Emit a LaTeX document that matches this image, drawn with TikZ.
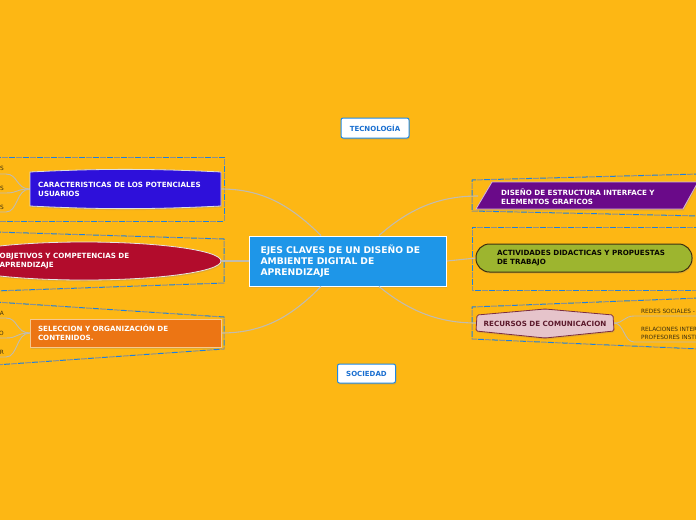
\documentclass[tikz,border=0pt]{standalone}
\usepackage{fontspec}
\setmainfont{DejaVu Sans}
\usetikzlibrary{shadows}
\definecolor{bgc}{HTML}{FDB714}
\definecolor{cblue}{HTML}{1E96E8}
\definecolor{vblue}{HTML}{2E10DA}
\definecolor{cred}{HTML}{B20C2C}
\definecolor{corange}{HTML}{EC7514}
\definecolor{corborder}{HTML}{F7C98E}
\definecolor{cpurple}{HTML}{6A0A89}
\definecolor{cgreen}{HTML}{9DB52F}
\definecolor{cgreenbd}{HTML}{3D3010}
\definecolor{cpink}{HTML}{E6C4CB}
\definecolor{cpinkbd}{HTML}{7B2D40}
\definecolor{cpinktx}{HTML}{5C1A2C}
\definecolor{tagbd}{HTML}{1E88E5}
\definecolor{tagtx}{HTML}{1A6FD0}
\definecolor{dblue}{HTML}{1E7FE0}
\definecolor{dgray}{HTML}{8A9090}
\definecolor{conn}{HTML}{C2BCAE}
\definecolor{subtx}{HTML}{3A2E10}
\newcommand{\twodash}[1]{%
  \draw[dblue,line width=1pt,dash pattern=on 6pt off 8pt] #1;
  \draw[dgray,line width=1pt,dash pattern=on 6pt off 8pt,dash phase=7pt] #1;}
\begin{document}
\begin{tikzpicture}[x=1pt,y=-1pt,
  conn/.style={draw=conn,line width=1.1pt},
  sub/.style={draw=conn,line width=0.9pt},
  lbl/.style={font=\bfseries\fontsize{7.15}{9}\selectfont,align=left,inner sep=0pt},
  subl/.style={font=\fontsize{5.8}{8}\selectfont,text=subtx,align=left,inner sep=0pt},
  shad/.style={drop shadow={opacity=0.22,shadow xshift=0.8pt,shadow yshift=-1.5pt}},
  tag/.style={draw=tagbd,line width=1pt,fill=white,rounded corners=2pt,text=tagtx,
    font=\bfseries\fontsize{7}{8}\selectfont,inner sep=0pt,shad}]
\useasboundingbox (0,0) rectangle (696,520);
\clip (0,0) rectangle (696,520);
\fill[bgc] (0,0) rectangle (696,520);

% dashed boundaries
\twodash{(-5,157) -- (224,157) -- (224,221) -- (-5,221)}
\twodash{(-5,232) -- (224,239) -- (224,283) -- (-5,291)}
\twodash{(-5,302) -- (224,317) -- (224,349) -- (-5,365)}
\twodash{(700,174) -- (472,180) -- (472,211) -- (700,216)}
\twodash{(700,227) -- (472,227) -- (472,290) -- (700,290)}
\twodash{(700,298) -- (472,307) -- (472,339) -- (700,349)}

% central node
\node[fill=cblue,draw=white,line width=1pt,minimum width=197pt,minimum height=50pt,
  text width=175pt,inner xsep=11pt,align=left,text=white,
  font=\bfseries\fontsize{9.2}{10.8}\selectfont,shad] (c) at (348,261)
  {EJES CLAVES DE UN DISEÑO DE\\AMBIENTE DIGITAL DE\\APRENDIZAJE};

% attach coordinates
\coordinate (cuR) at (221,189);
\coordinate (obR) at (221,261);
\coordinate (soR) at (221,333);
\coordinate (diL) at (478,196);
\coordinate (acL) at (476,258);
\coordinate (reL) at (476,323);
\coordinate (cuL) at (30,189);
\coordinate (soL) at (30,333);
\coordinate (reR) at (614,323);

% connectors
\draw[conn] (c.north west) ++(72,0) coordinate (c1) (c1) .. controls (290,205) and (262,189) .. (cuR);
\draw[conn] (c.west) -- (obR);
\draw[conn] (c.south west) ++(72,0) coordinate (c3) (c3) .. controls (290,318) and (262,333) .. (soR);
\draw[conn] (c.north west) ++(130,0) coordinate (c4) (c4) .. controls (410,208) and (440,196) .. (diL);
\draw[conn] (c.east) -- (acL);
\draw[conn] (c.south west) ++(130,0) coordinate (c6) (c6) .. controls (410,312) and (440,323) .. (reL);

% sub connectors left top
\coordinate (s1) at (6,174); \coordinate (s2) at (6,193); \coordinate (s3) at (6,212);
\draw[sub] (cuL) .. controls (16,189) and (18,174) .. (s1) -- ++(-10,0);
\draw[sub] (cuL) .. controls (16,189) and (18,193) .. (s2) -- ++(-10,0);
\draw[sub] (cuL) .. controls (16,189) and (18,212) .. (s3) -- ++(-10,0);
\node[subl,anchor=south east] (t1) at (4,171) {S};
\node[subl,anchor=south east] (t2) at (4,190.5) {S};
\node[subl,anchor=south east] (t3) at (4,209.5) {S};
% sub connectors left bottom
\coordinate (u1) at (6,318); \coordinate (u2) at (6,338); \coordinate (u3) at (6,357);
\draw[sub] (soL) .. controls (16,333) and (18,318) .. (u1) -- ++(-10,0);
\draw[sub] (soL) .. controls (16,333) and (18,338) .. (u2) -- ++(-10,0);
\draw[sub] (soL) .. controls (16,333) and (18,357) .. (u3) -- ++(-10,0);
\node[subl,anchor=south east] (v1) at (4,315.5) {A};
\node[subl,anchor=south east] (v2) at (4,335.5) {O};
\node[subl,anchor=south east] (v3) at (4,355) {R};
% sub connectors right
\coordinate (r1) at (634,316); \coordinate (r2) at (634,342);
\draw[sub] (reR) .. controls (624,323) and (624,316) .. (r1) -- (700,316);
\draw[sub] (reR) .. controls (624,323) and (624,342) .. (r2) -- (700,342);
\node[subl,anchor=west] (w1) at (641,311) {REDES SOCIALES -};
\node[subl,anchor=west] (w2) at (641,333) {RELACIONES INTER\\PROFESORES INSTI};

% left top node
\fill[vblue,draw=white!75!gray,line width=0.8pt,shad]
  (30,172) .. controls (100,168.5) and (150,168.5) .. (221,172) -- (221,206)
  .. controls (150,209.5) and (100,209.5) .. (30,206) -- cycle;
\node[lbl,text=white,anchor=west] (cu) at (38,189.5) {CARACTERISTICAS DE LOS POTENCIALES\\USUARIOS};

% red ellipse
\fill[cred,draw=white!80!gray,line width=0.8pt,shad] (84,261) ellipse [x radius=137, y radius=19];
\node[lbl,text=white,anchor=west] (ob) at (-0.5,261.5) {OBJETIVOS Y COMPETENCIAS DE\\APRENDIZAJE};

% orange rect
\node[fill=corange,draw=corborder,line width=1pt,minimum width=191pt,minimum height=28pt,
  text width=175pt,inner xsep=8pt,lbl,inner ysep=0pt,text=white,shad] (so) at (125.5,333)
  {SELECCION Y ORGANIZACIÓN DE\\CONTENIDOS.};

% purple parallelogram
\fill[cpurple,draw=white!70!cpurple,line width=0.8pt,shad]
  (492,182) -- (698,182) -- (683,209) -- (476,209) -- cycle;
\node[lbl,text=white,anchor=west] (di) at (501,196.5) {DISEÑO DE ESTRUCTURA INTERFACE Y\\ELEMENTOS GRAFICOS};

% green stadium
\node[fill=cgreen,draw=cgreenbd,line width=1pt,rounded corners=13.5pt,minimum width=216pt,
  minimum height=28pt,text width=174pt,inner xsep=21pt,inner ysep=0pt,lbl,text=black!85!cgreenbd,shad]
  (ac) at (584,258) {ACTIVIDADES DIDACTICAS Y PROPUESTAS\\DE TRABAJO};

% pink hexagon
\fill[cpink,draw=cpinkbd,line width=0.8pt,rounded corners=1.5pt,shad]
  (477,315) -- (545,309) -- (613,315) -- (614,331) -- (545,338) -- (476,331) -- cycle;
\node[lbl,text=cpinktx] (re) at (545,323.5) {RECURSOS DE COMUNICACION};

% tags
\node[tag,minimum width=68pt,minimum height=20pt] (tec) at (375,128) {TECNOLOGÍA};
\node[tag,minimum width=58pt,minimum height=19pt] (soc) at (366.5,373.5) {SOCIEDAD};
\end{tikzpicture}
\end{document}
